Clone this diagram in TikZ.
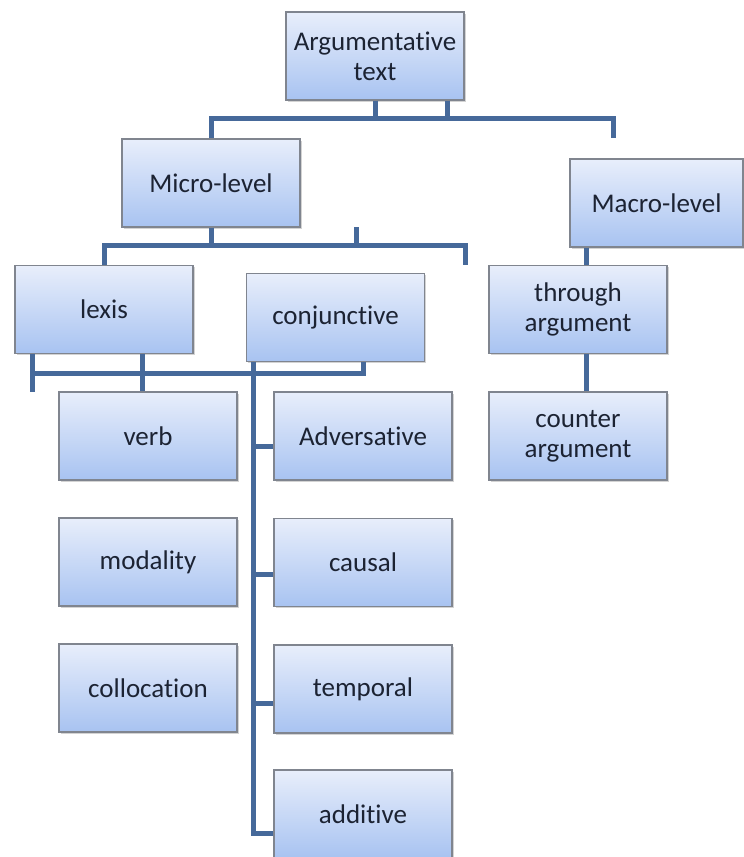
\documentclass[tikz,border=0pt]{standalone}
\usepackage{fontspec}
\setmainfont[Ligatures=NoCommon]{Carlito}
\usepackage{tikz}
\usetikzlibrary{shadows}
\definecolor{boxtop}{HTML}{E8EEFB}
\definecolor{boxbot}{HTML}{A8C3F1}
\definecolor{boxline}{HTML}{80858F}
\definecolor{linkblue}{HTML}{46699A}
\definecolor{inktext}{HTML}{1C2333}
\tikzstyle{every node}=[font=\fontsize{27}{30}\selectfont,text=inktext]
\tikzstyle{box}=[draw=boxline,line width=1.2pt,top color=boxtop,bottom color=boxbot,
  minimum width=178pt,minimum height=88pt,inner sep=0pt,align=center,
  drop shadow={shadow xshift=1.5pt,shadow yshift=-1.5pt,opacity=0.35}]
\tikzstyle{link}=[draw=linkblue,line width=5pt]

\begin{document}
\begin{tikzpicture}[x=1pt,y=-1pt]
    \useasboundingbox (0,0) rectangle (744,857);
    \node [box] (arg) at (375,56) {Argumentative\\text};
    \node [box] (micro) at (211,183) {Micro-level};
    \node [box,minimum width=173pt] (macro) at (656.5,203) {Macro-level};
    \node [box] (lexis) at (104,309.5) {lexis};
    \node [box] (conj) at (335.5,317.5) {conjunctive};
    \node [box] (through) at (578,309.5) {through\\argument};
    \node [box] (counter) at (578,436) {counter\\argument};
    \node [box] (verb) at (148,436) {verb};
    \node [box] (modality) at (148,562) {modality};
    \node [box] (colloc) at (148,688) {collocation};
    \node [box] (adv) at (363,436) {Adversative};
    \node [box] (causal) at (363,562.5) {causal};
    \node [box] (temporal) at (363,689) {temporal};
    \node [box] (additive) at (363,814) {additive};

    \coordinate (bara) at (0,118);
    \coordinate (barb) at (0,245);
    \coordinate (barc) at (0,373);
    \coordinate (macroend) at (613,138);
    \coordinate (argstub) at ([xshift=72pt]arg.south);
    \coordinate (microstub) at (356,227);
    \coordinate (lexisend) at (465,265);
    \coordinate (lexisleft) at (32,392);
    \coordinate (verbstub) at ([xshift=-6pt]verb.north);
    \coordinate (conjleg) at ([xshift=8pt]conj.south west);
    \coordinate (macroleg) at ([xshift=17pt]macro.south west);

    \draw [link] (micro.north) -- (micro.north |- bara) -| (macroend);
    \draw [link] (arg.south) -- (arg.south |- bara);
    \draw [link] (argstub) -- (argstub |- bara);

    \draw [link] (lexis.north) -- (lexis.north |- barb) -| (lexisend);
    \draw [link] (micro.south) -- (micro.south |- barb);
    \draw [link] (microstub) -- (microstub |- barb);

    \draw [link] (lexisleft |- lexis.south) -- (lexisleft);
    \draw [link] (verbstub |- lexis.south) -- (verbstub);
    \draw [link] (lexisleft |- barc) -- (adv.north |- barc) -- (adv.north |- conj.south);
    \foreach \n/\d in {adv/10,causal/12,temporal/14,additive/19}
        \draw [link] ([yshift=-\d pt]\n.west) -| (conjleg);

    \draw [link] (macroleg) -- (macroleg |- through.north);
    \draw [link] (macroleg |- through.south) -- (macroleg |- counter.north);
\end{tikzpicture}
\end{document}
